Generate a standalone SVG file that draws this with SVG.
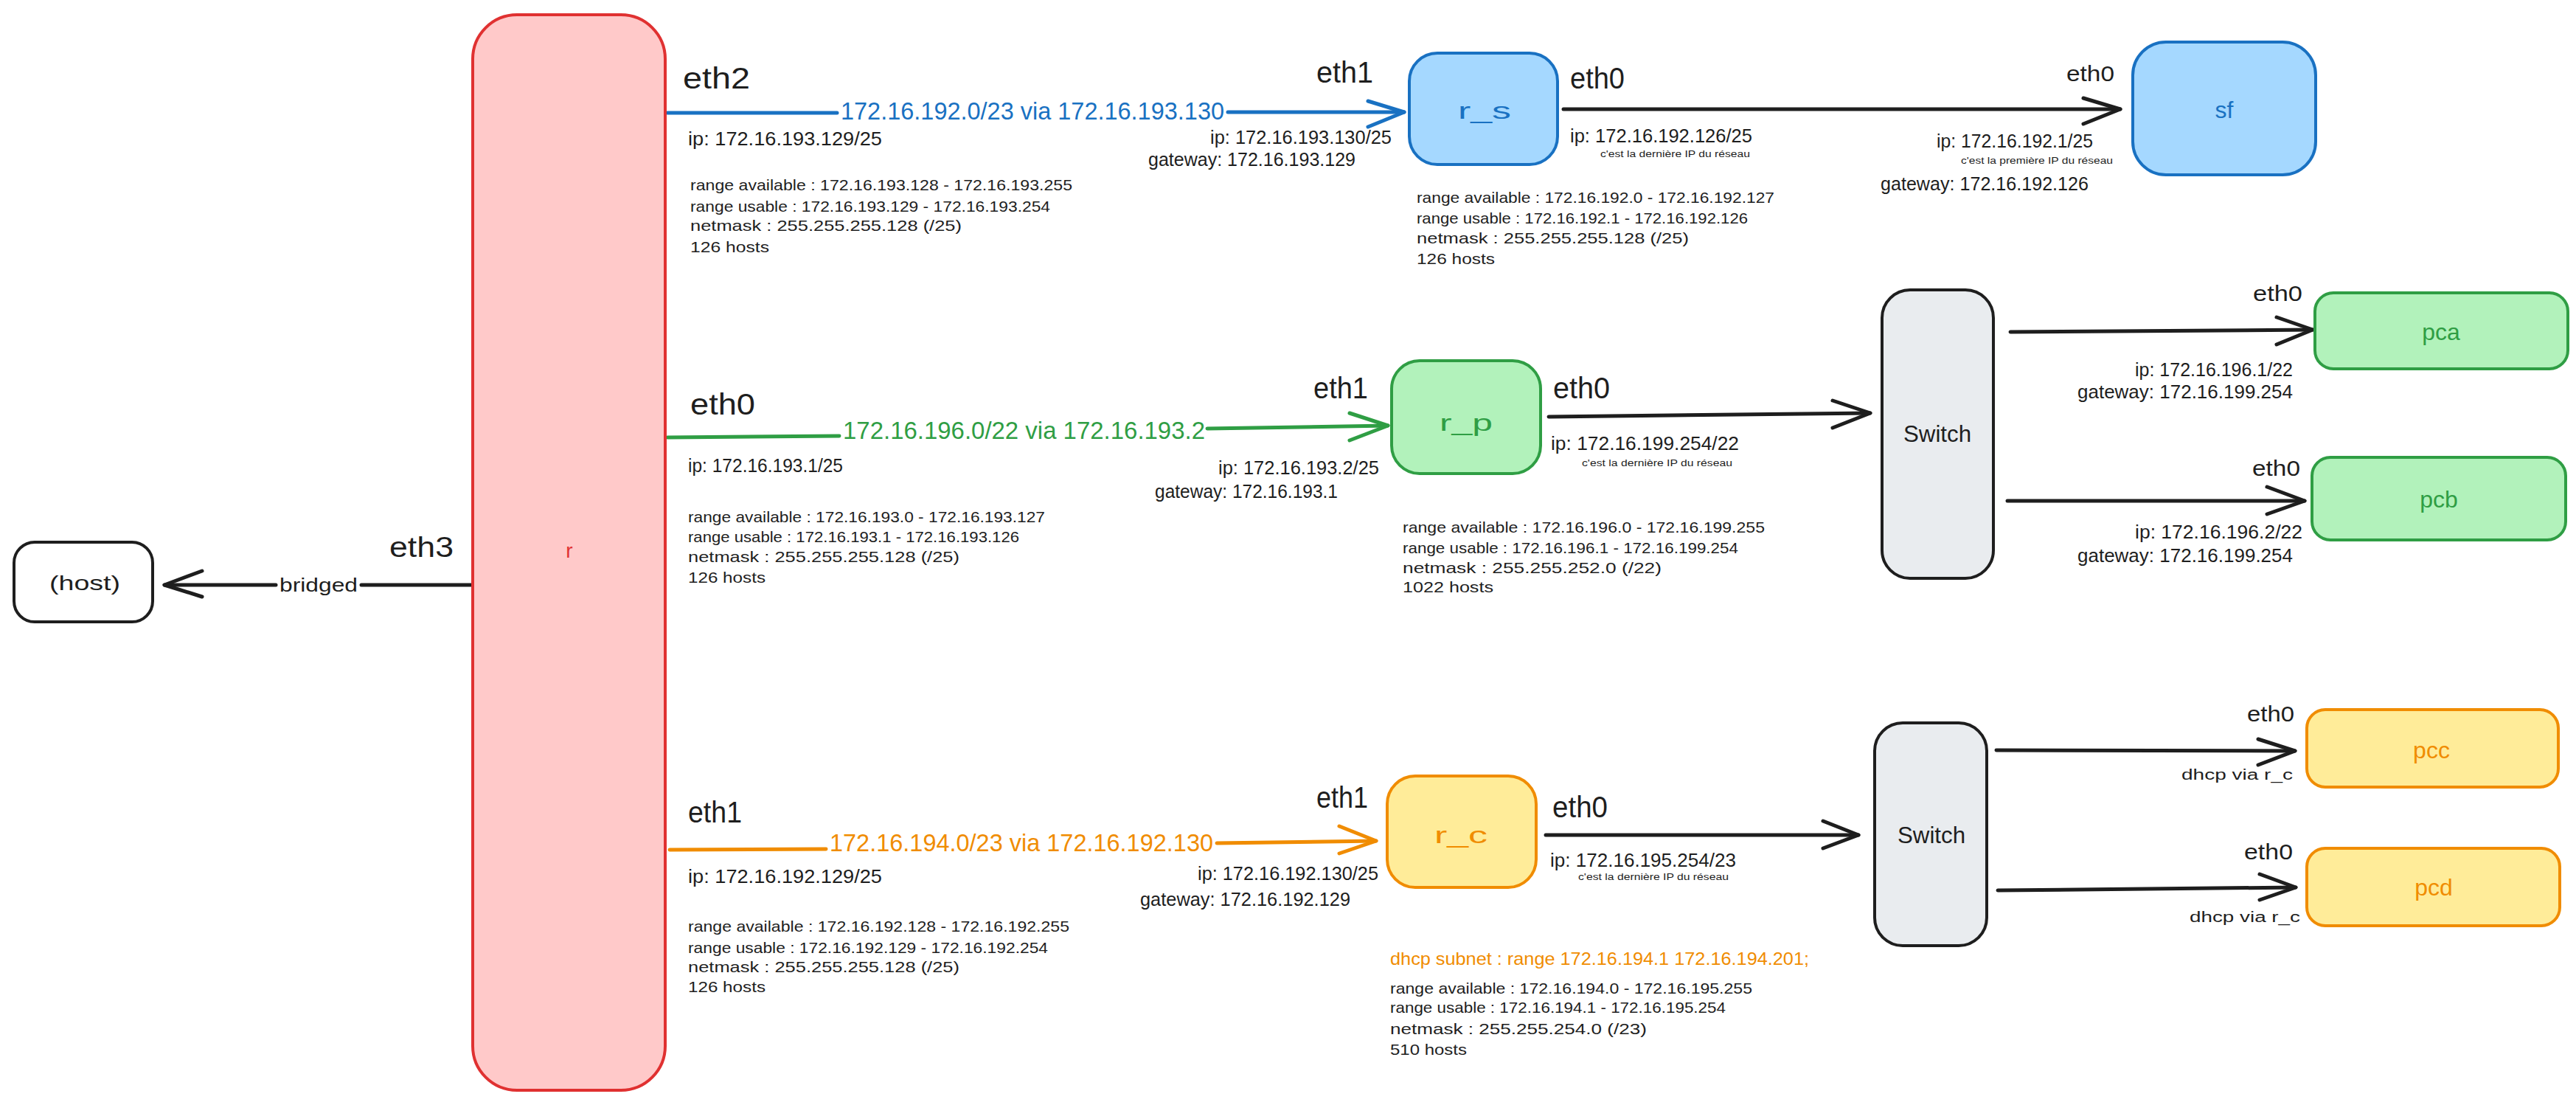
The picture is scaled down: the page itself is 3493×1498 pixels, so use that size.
<svg xmlns="http://www.w3.org/2000/svg" width="3493" height="1498" viewBox="0 0 3493 1498">
<style>
text{font-family:"Liberation Sans",Arial,sans-serif;fill:#1e1e1e}
.eth{font-size:40px}
.eths{font-size:30px}
.ip{font-size:25px}
.rg{font-size:21px}
.sm{font-size:12px}
.route{font-size:34px}
.lbl{font-size:32px;text-anchor:middle}
.blue{fill:#1971c2}
.green{fill:#2f9e44}
.orange{fill:#f08c00}
.red{fill:#e03131}
.box{stroke-width:4;stroke-linejoin:round}
.bx-red{fill:#ffc9c9;stroke:#e03131}
.bx-blue{fill:#a5d8ff;stroke:#1971c2}
.bx-green{fill:#b2f2bb;stroke:#2f9e44}
.bx-orange{fill:#ffec99;stroke:#f08c00}
.bx-gray{fill:#e9ecef;stroke:#1e1e1e}
.bx-white{fill:#ffffff;stroke:#1e1e1e}
.ln{fill:none;stroke-width:5;stroke-linecap:round;stroke-linejoin:round}
.k{stroke:#1e1e1e}
.sb{stroke:#1971c2}
.sg{stroke:#2f9e44}
.so{stroke:#f08c00}
</style>
<rect width="3493" height="1498" fill="#ffffff"/>

<g id="connectors">
  <g id="c-r-rs">
    <path class="ln sb" d="M905 153 L1135 153 M1665 152 L1904 152"/>
    <path class="ln sb" d="M1855 137 L1904 152 L1855 172"/>
    <text class="route blue" x="1140" y="162" textLength="520" lengthAdjust="spacingAndGlyphs">172.16.192.0/23 via 172.16.193.130</text>
  </g>
  <g id="c-rs-sf">
    <path class="ln k" d="M2120 148 L2875 148"/>
    <path class="ln k" d="M2825 133 L2875 148 L2825 168"/>
  </g>
  <g id="c-r-rp">
    <path class="ln sg" d="M905 593 L1138 591 M1637 581 L1882 577"/>
    <path class="ln sg" d="M1830 560 L1882 577 L1830 597"/>
    <text class="route green" x="1143" y="595" textLength="491" lengthAdjust="spacingAndGlyphs">172.16.196.0/22 via 172.16.193.2</text>
  </g>
  <g id="c-rp-sw1">
    <path class="ln k" d="M2100 565 L2536 560"/>
    <path class="ln k" d="M2485 543 L2536 560 L2485 580"/>
  </g>
  <g id="c-sw1-pca">
    <path class="ln k" d="M2726 450 L3136 447"/>
    <path class="ln k" d="M3087 430 L3136 447 L3087 467"/>
  </g>
  <g id="c-sw1-pcb">
    <path class="ln k" d="M2722 679 L3125 679"/>
    <path class="ln k" d="M3074 660 L3125 679 L3074 697"/>
  </g>
  <g id="c-r-rc">
    <path class="ln so" d="M908 1152 L1120 1151 M1650 1143 L1866 1140"/>
    <path class="ln so" d="M1816 1120 L1866 1140 L1816 1157"/>
    <text class="route orange" x="1125" y="1154" textLength="520" lengthAdjust="spacingAndGlyphs">172.16.194.0/23 via 172.16.192.130</text>
  </g>
  <g id="c-rc-sw2">
    <path class="ln k" d="M2096 1132 L2520 1132"/>
    <path class="ln k" d="M2472 1113 L2520 1132 L2472 1150"/>
  </g>
  <g id="c-sw2-pcc">
    <path class="ln k" d="M2707 1017 L3112 1018"/>
    <path class="ln k" d="M3062 1002 L3112 1018 L3062 1037"/>
  </g>
  <g id="c-sw2-pcd">
    <path class="ln k" d="M2709 1207 L3113 1203"/>
    <path class="ln k" d="M3064 1185 L3113 1203 L3064 1220"/>
  </g>
  <g id="c-r-host">
    <path class="ln k" d="M641 793 L490 793 M374 793 L223 793"/>
    <path class="ln k" d="M274 774 L223 793 L274 809"/>
    <text x="379" y="802" font-size="26" textLength="106" lengthAdjust="spacingAndGlyphs">bridged</text>
  </g>
</g>

<g id="node-r">
  <rect class="box bx-red" x="641" y="20" width="261" height="1458" rx="60"/>
  <text class="red" x="772" y="756" font-size="28" text-anchor="middle">r</text>
</g>
<g id="node-host">
  <rect class="box bx-white" x="19" y="735" width="188" height="108" rx="28"/>
  <text x="115" y="800" font-size="28" text-anchor="middle" textLength="96" lengthAdjust="spacingAndGlyphs">(host)</text>
</g>
<g id="node-r_s">
  <rect class="box bx-blue" x="1911" y="72" width="201" height="151" rx="38"/>
  <text class="lbl blue" x="2013" y="161" textLength="72" lengthAdjust="spacingAndGlyphs">r_s</text>
</g>
<g id="node-sf">
  <rect class="box bx-blue" x="2892" y="57" width="248" height="180" rx="45"/>
  <text class="lbl blue" x="3016" y="160" font-size="36">sf</text>
</g>
<g id="node-r_p">
  <rect class="box bx-green" x="1887" y="489" width="202" height="153" rx="38"/>
  <text class="lbl green" x="1988" y="584" textLength="72" lengthAdjust="spacingAndGlyphs">r_p</text>
</g>
<g id="node-switch1">
  <rect class="box bx-gray" x="2552" y="393" width="151" height="391" rx="38"/>
  <text class="lbl" x="2627" y="599" textLength="92" lengthAdjust="spacingAndGlyphs">Switch</text>
</g>
<g id="node-pca">
  <rect class="box bx-green" x="3139" y="397" width="343" height="103" rx="25"/>
  <text class="lbl green" x="3310" y="461" font-size="30">pca</text>
</g>
<g id="node-pcb">
  <rect class="box bx-green" x="3135" y="620" width="344" height="112" rx="25"/>
  <text class="lbl green" x="3307" y="688" font-size="30">pcb</text>
</g>
<g id="node-r_c">
  <rect class="box bx-orange" x="1881" y="1052" width="202" height="151" rx="38"/>
  <text class="lbl orange" x="1981" y="1143" textLength="72" lengthAdjust="spacingAndGlyphs">r_c</text>
</g>
<g id="node-switch2">
  <rect class="box bx-gray" x="2542" y="980" width="152" height="302" rx="38"/>
  <text class="lbl" x="2619" y="1143" textLength="92" lengthAdjust="spacingAndGlyphs">Switch</text>
</g>
<g id="node-pcc">
  <rect class="box bx-orange" x="3128" y="962" width="341" height="105" rx="25"/>
  <text class="lbl orange" x="3297" y="1028" font-size="30">pcc</text>
</g>
<g id="node-pcd">
  <rect class="box bx-orange" x="3128" y="1150" width="343" height="105" rx="25"/>
  <text class="lbl orange" x="3300" y="1214" font-size="30">pcd</text>
</g>

<g id="annotations">
  <text x="528" y="755" font-size="38" textLength="87" lengthAdjust="spacingAndGlyphs">eth3</text>

  <text class="eth" x="926" y="120" textLength="91" lengthAdjust="spacingAndGlyphs">eth2</text>
  <text class="eth" x="1785" y="112" textLength="77" lengthAdjust="spacingAndGlyphs">eth1</text>
  <text class="ip" x="933" y="197" textLength="263" lengthAdjust="spacingAndGlyphs">ip: 172.16.193.129/25</text>
  <text class="ip" x="1641" y="195" textLength="246" lengthAdjust="spacingAndGlyphs">ip: 172.16.193.130/25</text>
  <text class="ip" x="1557" y="225" textLength="281" lengthAdjust="spacingAndGlyphs">gateway: 172.16.193.129</text>
  <text class="rg" x="936" y="258" textLength="518" lengthAdjust="spacingAndGlyphs">range available : 172.16.193.128 - 172.16.193.255</text>
  <text class="rg" x="936" y="287" textLength="488" lengthAdjust="spacingAndGlyphs">range usable : 172.16.193.129 - 172.16.193.254</text>
  <text class="rg" x="936" y="313" textLength="368" lengthAdjust="spacingAndGlyphs">netmask : 255.255.255.128 (/25)</text>
  <text class="rg" x="936" y="342" textLength="107" lengthAdjust="spacingAndGlyphs">126 hosts</text>

  <text class="eth" x="2129" y="120" textLength="74" lengthAdjust="spacingAndGlyphs">eth0</text>
  <text class="ip" x="2129" y="193" textLength="247" lengthAdjust="spacingAndGlyphs">ip: 172.16.192.126/25</text>
  <text class="sm" x="2170" y="213" textLength="203" lengthAdjust="spacingAndGlyphs">c'est la dernière IP du réseau</text>
  <text class="rg" x="1921" y="275" textLength="485" lengthAdjust="spacingAndGlyphs">range available : 172.16.192.0 - 172.16.192.127</text>
  <text class="rg" x="1921" y="303" textLength="449" lengthAdjust="spacingAndGlyphs">range usable : 172.16.192.1 - 172.16.192.126</text>
  <text class="rg" x="1921" y="330" textLength="369" lengthAdjust="spacingAndGlyphs">netmask : 255.255.255.128 (/25)</text>
  <text class="rg" x="1921" y="358" textLength="106" lengthAdjust="spacingAndGlyphs">126 hosts</text>

  <text class="eths" x="2802" y="110" textLength="65" lengthAdjust="spacingAndGlyphs">eth0</text>
  <text class="ip" x="2626" y="200" textLength="212" lengthAdjust="spacingAndGlyphs">ip: 172.16.192.1/25</text>
  <text class="sm" x="2659" y="222" textLength="206" lengthAdjust="spacingAndGlyphs">c'est la première IP du réseau</text>
  <text class="ip" x="2550" y="258" textLength="282" lengthAdjust="spacingAndGlyphs">gateway: 172.16.192.126</text>

  <text class="eth" x="936" y="562" textLength="88" lengthAdjust="spacingAndGlyphs">eth0</text>
  <text class="eth" x="1781" y="540" textLength="74" lengthAdjust="spacingAndGlyphs">eth1</text>
  <text class="ip" x="933" y="640" textLength="210" lengthAdjust="spacingAndGlyphs">ip: 172.16.193.1/25</text>
  <text class="ip" x="1652" y="643" textLength="218" lengthAdjust="spacingAndGlyphs">ip: 172.16.193.2/25</text>
  <text class="ip" x="1566" y="675" textLength="248" lengthAdjust="spacingAndGlyphs">gateway: 172.16.193.1</text>
  <text class="rg" x="933" y="708" textLength="484" lengthAdjust="spacingAndGlyphs">range available : 172.16.193.0 - 172.16.193.127</text>
  <text class="rg" x="933" y="735" textLength="449" lengthAdjust="spacingAndGlyphs">range usable : 172.16.193.1 - 172.16.193.126</text>
  <text class="rg" x="933" y="762" textLength="368" lengthAdjust="spacingAndGlyphs">netmask : 255.255.255.128 (/25)</text>
  <text class="rg" x="933" y="790" textLength="105" lengthAdjust="spacingAndGlyphs">126 hosts</text>

  <text class="eth" x="2106" y="540" textLength="77" lengthAdjust="spacingAndGlyphs">eth0</text>
  <text class="ip" x="2103" y="610" textLength="255" lengthAdjust="spacingAndGlyphs">ip: 172.16.199.254/22</text>
  <text class="sm" x="2145" y="632" textLength="204" lengthAdjust="spacingAndGlyphs">c'est la dernière IP du réseau</text>
  <text class="rg" x="1902" y="722" textLength="491" lengthAdjust="spacingAndGlyphs">range available : 172.16.196.0 - 172.16.199.255</text>
  <text class="rg" x="1902" y="750" textLength="455" lengthAdjust="spacingAndGlyphs">range usable : 172.16.196.1 - 172.16.199.254</text>
  <text class="rg" x="1902" y="777" textLength="351" lengthAdjust="spacingAndGlyphs">netmask : 255.255.252.0 (/22)</text>
  <text class="rg" x="1902" y="803" textLength="123" lengthAdjust="spacingAndGlyphs">1022 hosts</text>

  <text class="eths" x="3055" y="408" textLength="67" lengthAdjust="spacingAndGlyphs">eth0</text>
  <text class="ip" x="2895" y="510" textLength="214" lengthAdjust="spacingAndGlyphs">ip: 172.16.196.1/22</text>
  <text class="ip" x="2817" y="540" textLength="292" lengthAdjust="spacingAndGlyphs">gateway: 172.16.199.254</text>
  <text class="eths" x="3054" y="645" textLength="65" lengthAdjust="spacingAndGlyphs">eth0</text>
  <text class="ip" x="2895" y="730" textLength="227" lengthAdjust="spacingAndGlyphs">ip: 172.16.196.2/22</text>
  <text class="ip" x="2817" y="762" textLength="292" lengthAdjust="spacingAndGlyphs">gateway: 172.16.199.254</text>

  <text class="eth" x="933" y="1115" textLength="73" lengthAdjust="spacingAndGlyphs">eth1</text>
  <text class="eth" x="1785" y="1095" textLength="70" lengthAdjust="spacingAndGlyphs">eth1</text>
  <text class="ip" x="933" y="1197" textLength="263" lengthAdjust="spacingAndGlyphs">ip: 172.16.192.129/25</text>
  <text class="ip" x="1624" y="1193" textLength="245" lengthAdjust="spacingAndGlyphs">ip: 172.16.192.130/25</text>
  <text class="ip" x="1546" y="1228" textLength="285" lengthAdjust="spacingAndGlyphs">gateway: 172.16.192.129</text>
  <text class="rg" x="933" y="1263" textLength="517" lengthAdjust="spacingAndGlyphs">range available : 172.16.192.128 - 172.16.192.255</text>
  <text class="rg" x="933" y="1292" textLength="488" lengthAdjust="spacingAndGlyphs">range usable : 172.16.192.129 - 172.16.192.254</text>
  <text class="rg" x="933" y="1318" textLength="368" lengthAdjust="spacingAndGlyphs">netmask : 255.255.255.128 (/25)</text>
  <text class="rg" x="933" y="1345" textLength="105" lengthAdjust="spacingAndGlyphs">126 hosts</text>

  <text class="eth" x="2105" y="1108" textLength="75" lengthAdjust="spacingAndGlyphs">eth0</text>
  <text class="ip" x="2102" y="1175" textLength="252" lengthAdjust="spacingAndGlyphs">ip: 172.16.195.254/23</text>
  <text class="sm" x="2140" y="1193" textLength="204" lengthAdjust="spacingAndGlyphs">c'est la dernière IP du réseau</text>
  <text class="orange" x="1885" y="1308" font-size="24" textLength="568" lengthAdjust="spacingAndGlyphs">dhcp subnet : range 172.16.194.1 172.16.194.201;</text>
  <text class="rg" x="1885" y="1347" textLength="491" lengthAdjust="spacingAndGlyphs">range available : 172.16.194.0 - 172.16.195.255</text>
  <text class="rg" x="1885" y="1373" textLength="455" lengthAdjust="spacingAndGlyphs">range usable : 172.16.194.1 - 172.16.195.254</text>
  <text class="rg" x="1885" y="1402" textLength="348" lengthAdjust="spacingAndGlyphs">netmask : 255.255.254.0 (/23)</text>
  <text class="rg" x="1885" y="1430" textLength="104" lengthAdjust="spacingAndGlyphs">510 hosts</text>

  <text class="eths" x="3047" y="978" textLength="64" lengthAdjust="spacingAndGlyphs">eth0</text>
  <text x="2958" y="1057" font-size="20" textLength="151" lengthAdjust="spacingAndGlyphs">dhcp via r_c</text>
  <text class="eths" x="3043" y="1165" textLength="66" lengthAdjust="spacingAndGlyphs">eth0</text>
  <text x="2969" y="1250" font-size="20" textLength="150" lengthAdjust="spacingAndGlyphs">dhcp via r_c</text>
</g>
</svg>
